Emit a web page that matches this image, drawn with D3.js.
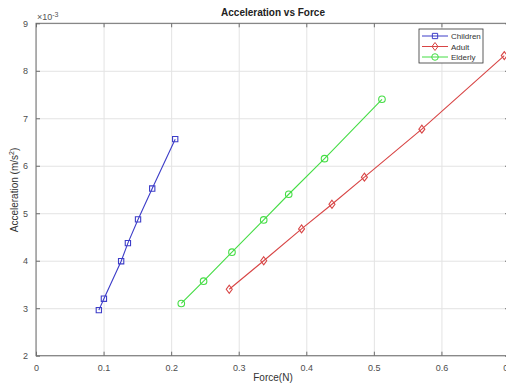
<!DOCTYPE html>
<html>
<head>
<meta charset="utf-8">
<script src="https://cdn.jsdelivr.net/npm/d3@7"></script>
<style>
  body { margin: 0; background: #fff; }
  svg { display: block; font-family: "Liberation Sans", Arial, sans-serif; }
  .grid line { stroke: #e3e3e3; }
  .grid .domain { display: none; }
  .axis text { fill: #4d4d4d; font-size: 9px; }
  .axis line, .axis .domain { stroke: #6e6e6e; }
</style>
</head>
<body>
<div class="chart"></div>
<script>
// values in units of 1e-3 m/s^2
const childrenForce = [0.093, 0.1005, 0.126, 0.136, 0.151, 0.172, 0.206];
const childrenAccel = [2.96, 3.2, 3.99, 4.37, 4.87, 5.52, 6.56];
const adultForce = [0.286, 0.337, 0.393, 0.438, 0.486, 0.571, 0.693];
const adultAccel = [3.40, 4.00, 4.67, 5.19, 5.76, 6.77, 8.32];
const elderlyForce = [0.215, 0.248, 0.290, 0.337, 0.374, 0.427, 0.512];
const elderlyAccel = [3.10, 3.57, 4.18, 4.86, 5.40, 6.15, 7.40];
const xTicks = [0, 0.1, 0.2, 0.3, 0.4, 0.5, 0.6, 0.7];
const yTicks = [2, 3, 4, 5, 6, 7, 8, 9];

const series = [
  { name: "Children", color: "#3d3dc8", marker: "square",
    points: childrenForce.map((f, i) => ({ x: f, y: childrenAccel[i] })) },
  { name: "Adult", color: "#d84545", marker: "diamond",
    points: adultForce.map((f, i) => ({ x: f, y: adultAccel[i] })) },
  { name: "Elderly", color: "#45dd45", marker: "circle",
    points: elderlyForce.map((f, i) => ({ x: f, y: elderlyAccel[i] })) },
];

const svgWidth = 506;
const svgHeight = 385;
const svg = d3.select(".chart").append("svg")
  .attr("width", svgWidth).attr("height", svgHeight);

const margin = { top: 23.3, left: 36 };
const innerWidth = 473;
const innerHeight = 332.4;

const xScale = d3.scaleLinear().domain([0, 0.7]).range([0, innerWidth]);
const yScale = d3.scaleLinear().domain([2, 9]).range([innerHeight, 0]);

const g = svg.append("g")
  .attr("transform", `translate(${margin.left}, ${margin.top})`);

// grid
g.append("g").attr("class", "grid")
  .attr("transform", `translate(0, ${innerHeight})`)
  .call(d3.axisBottom(xScale).tickValues(xTicks).tickSize(-innerHeight).tickFormat(""));
g.append("g").attr("class", "grid")
  .call(d3.axisLeft(yScale).tickValues(yTicks).tickSize(-innerWidth).tickFormat(""));

// box
g.append("rect").attr("width", innerWidth).attr("height", innerHeight)
  .attr("fill", "none").attr("stroke", "#6e6e6e");

g.append("g").attr("class", "axis")
  .attr("transform", `translate(0, ${innerHeight})`)
  .call(d3.axisBottom(xScale).tickValues(xTicks).tickSize(-4).tickPadding(9)
    .tickFormat(d3.format("")));
g.append("g").attr("class", "axis")
  .call(d3.axisTop(xScale).tickValues(xTicks).tickSize(-4).tickFormat(""));
g.append("g").attr("class", "axis")
  .call(d3.axisLeft(yScale).tickValues(yTicks).tickSize(-4).tickPadding(8)
    .tickFormat(d3.format("d")));
g.append("g").attr("class", "axis")
  .attr("transform", `translate(${innerWidth}, 0)`)
  .call(d3.axisRight(yScale).tickValues(yTicks).tickSize(-4).tickFormat(""));
g.selectAll(".axis .domain").remove();

const symbolFor = (m) => {
  if (m === "square") return d3.symbol(d3.symbolSquare, 28)();
  if (m === "diamond") return "M0,-4L3,0L0,4L-3,0Z";
  return d3.symbol(d3.symbolCircle, 34)();
};

const line = d3.line().x((d) => xScale(d.x)).y((d) => yScale(d.y));

series.forEach((s) => {
  g.append("path").datum(s.points)
    .attr("d", line).attr("fill", "none")
    .attr("stroke", s.color).attr("stroke-width", 1.1);
  g.selectAll(null).data(s.points).enter().append("path")
    .attr("transform", (d) => `translate(${xScale(d.x)}, ${yScale(d.y)})`)
    .attr("d", symbolFor(s.marker))
    .attr("fill", "none").attr("stroke", s.color).attr("stroke-width", 1.1);
});

// labels
svg.append("text").text("Acceleration vs Force")
  .attr("x", 273).attr("y", 16).attr("text-anchor", "middle")
  .attr("font-size", 10).attr("font-weight", "bold").attr("fill", "#222");
svg.append("text").text("Force(N)")
  .attr("x", 273).attr("y", 381).attr("text-anchor", "middle")
  .attr("font-size", 10).attr("fill", "#333");
const yLab = svg.append("text")
  .attr("transform", "translate(18, 190) rotate(-90)")
  .attr("text-anchor", "middle").attr("font-size", 10).attr("fill", "#333");
yLab.append("tspan").text("Acceleration (m/s");
yLab.append("tspan").text("2").attr("font-size", 7).attr("dy", -4);
yLab.append("tspan").text(")").attr("dy", 4);

const expLab = svg.append("text").attr("x", 37).attr("y", 20)
  .attr("font-size", 9).attr("fill", "#555");
expLab.append("tspan").text("\u00d710");
expLab.append("tspan").text("-3").attr("font-size", 7).attr("dy", -3);

// legend
const legend = svg.append("g").attr("transform", "translate(419, 29)");
legend.append("rect").attr("width", 64).attr("height", 34)
  .attr("fill", "#fff").attr("stroke", "#333").attr("stroke-width", 0.8);
series.forEach((s, i) => {
  const ly = 7 + i * 10.5;
  legend.append("line").attr("x1", 3).attr("x2", 29).attr("y1", ly).attr("y2", ly)
    .attr("stroke", s.color);
  legend.append("path").attr("transform", `translate(16, ${ly})`)
    .attr("d", symbolFor(s.marker)).attr("fill", "none").attr("stroke", s.color);
  legend.append("text").text(s.name).attr("x", 32).attr("y", ly + 3)
    .attr("font-size", 8).attr("fill", "#333");
});
</script>
</body>
</html>
